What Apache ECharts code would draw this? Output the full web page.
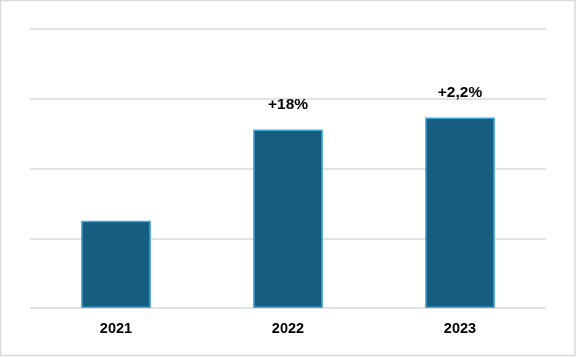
<!DOCTYPE html>
<html>
<head>
<meta charset="utf-8">
<script src="https://cdn.jsdelivr.net/npm/echarts@6/dist/echarts.min.js"></script>
<style>
html,body{margin:0;padding:0;background:#fff;}
#c{width:577px;height:358px;}
</style>
</head>
<body>
<div id="c"></div>
<script>
const categories = ['2021', '2022', '2023'];
const values = [1.25, 2.56, 2.73];
const growthLabels = ['', '+18%', '+2,2%'];

const chart = echarts.init(document.getElementById('c'), null, {renderer: 'canvas'});
chart.setOption({
  animation: false,
  backgroundColor: '#fff',
  graphic: [{
    type: 'rect',
    silent: true,
    shape: {x: 0.5, y: 0.5, width: 574.5, height: 355},
    style: {fill: 'none', stroke: '#d9d9d9', lineWidth: 1.5}
  }],
  grid: {left: 30, right: 31, top: 29, bottom: 50},
  xAxis: {
    type: 'category',
    data: categories,
    axisLine: {show: false},
    axisTick: {show: false},
    axisLabel: {
      color: '#000',
      fontFamily: 'Liberation Sans, Arial, sans-serif',
      fontWeight: 'bold',
      fontSize: 14.5,
      margin: 13
    }
  },
  yAxis: {
    type: 'value',
    min: 0,
    max: 4,
    interval: 1,
    axisLabel: {show: false},
    axisLine: {show: false},
    axisTick: {show: false},
    splitLine: {lineStyle: {color: '#d9d9d9', width: 1.5}}
  },
  series: [{
    type: 'bar',
    data: values,
    barWidth: '40.5%',
    itemStyle: {color: '#175D80', borderColor: '#41A7DA', borderWidth: 1.5},
    label: {
      show: true,
      position: 'top',
      distance: 17,
      color: '#000',
      fontFamily: 'Liberation Sans, Arial, sans-serif',
      fontWeight: 'bold',
      fontSize: 15.5,
      formatter: p => growthLabels[p.dataIndex]
    }
  }]
});
</script>
</body>
</html>
